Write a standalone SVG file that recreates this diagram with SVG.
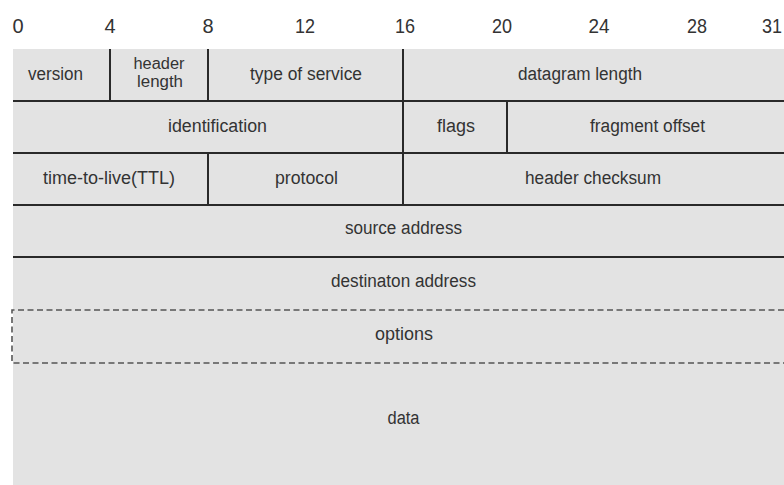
<svg xmlns="http://www.w3.org/2000/svg" width="784" height="485" viewBox="0 0 784 485">
<style>
.bg{fill:#e3e3e3}
.ln{stroke:#2a2a2a;stroke-width:2;fill:none}
.dash{stroke:#555;stroke-width:1.6;fill:none;stroke-dasharray:6 3.5}
.lbl{font-family:"Liberation Sans",Arial,sans-serif;font-size:18px;fill:#333;text-anchor:middle}
.sm{font-size:16px}
.num{font-family:"Liberation Sans",Arial,sans-serif;font-size:20px;fill:#333;text-anchor:middle}
</style>
<rect width="784" height="485" fill="#ffffff"/>
<g id="ruler">
<text class="num" x="18" y="33">0</text>
<text class="num" x="110" y="33">4</text>
<text class="num" x="208" y="33">8</text>
<text class="num" x="305" y="33" textLength="20" lengthAdjust="spacingAndGlyphs">12</text>
<text class="num" x="405" y="33" textLength="20" lengthAdjust="spacingAndGlyphs">16</text>
<text class="num" x="502" y="33" textLength="20" lengthAdjust="spacingAndGlyphs">20</text>
<text class="num" x="599" y="33" textLength="21" lengthAdjust="spacingAndGlyphs">24</text>
<text class="num" x="697" y="33" textLength="20" lengthAdjust="spacingAndGlyphs">28</text>
<text class="num" x="772" y="33" textLength="20" lengthAdjust="spacingAndGlyphs">31</text>
</g>
<rect class="bg" x="13" y="49" width="771" height="436"/>
<g id="connectors">
<line class="ln" x1="13" y1="101" x2="784" y2="101"/>
<line class="ln" x1="13" y1="153" x2="784" y2="153"/>
<line class="ln" x1="13" y1="205" x2="784" y2="205"/>
<line class="ln" x1="13" y1="257" x2="784" y2="257"/>
<line class="ln" x1="110" y1="49" x2="110" y2="101"/>
<line class="ln" x1="208" y1="49" x2="208" y2="101"/>
<line class="ln" x1="208" y1="153" x2="208" y2="205"/>
<line class="ln" x1="403" y1="49" x2="403" y2="205"/>
<line class="ln" x1="507" y1="101" x2="507" y2="153"/>
<path class="dash" d="M784 310 H12 V363 H784"/>
</g>
<g id="version"><text class="lbl" x="55.5" y="80" textLength="55" lengthAdjust="spacingAndGlyphs">version</text></g>
<g id="header-length"><text class="lbl sm" x="159" y="68.5" textLength="51" lengthAdjust="spacingAndGlyphs">header</text><text class="lbl sm" x="160" y="87" textLength="46" lengthAdjust="spacingAndGlyphs">length</text></g>
<g id="type-of-service"><text class="lbl" x="306" y="80" textLength="112" lengthAdjust="spacingAndGlyphs">type of service</text></g>
<g id="datagram-length"><text class="lbl" x="580" y="80" textLength="124" lengthAdjust="spacingAndGlyphs">datagram length</text></g>
<g id="identification"><text class="lbl" x="217.5" y="132" textLength="99" lengthAdjust="spacingAndGlyphs">identification</text></g>
<g id="flags"><text class="lbl" x="456" y="132" textLength="38" lengthAdjust="spacingAndGlyphs">flags</text></g>
<g id="fragment-offset"><text class="lbl" x="647.5" y="132" textLength="115" lengthAdjust="spacingAndGlyphs">fragment offset</text></g>
<g id="ttl"><text class="lbl" x="109" y="184" textLength="132" lengthAdjust="spacingAndGlyphs">time-to-live(TTL)</text></g>
<g id="protocol"><text class="lbl" x="306.5" y="184" textLength="63" lengthAdjust="spacingAndGlyphs">protocol</text></g>
<g id="header-checksum"><text class="lbl" x="593" y="184" textLength="136" lengthAdjust="spacingAndGlyphs">header checksum</text></g>
<g id="source-address"><text class="lbl" x="403.5" y="234" textLength="117" lengthAdjust="spacingAndGlyphs">source address</text></g>
<g id="destination-address"><text class="lbl" x="403.5" y="287" textLength="145" lengthAdjust="spacingAndGlyphs">destinaton address</text></g>
<g id="options"><text class="lbl" x="404" y="340" textLength="58" lengthAdjust="spacingAndGlyphs">options</text></g>
<g id="data"><text class="lbl" x="403.5" y="424" textLength="32" lengthAdjust="spacingAndGlyphs">data</text></g>
</svg>
